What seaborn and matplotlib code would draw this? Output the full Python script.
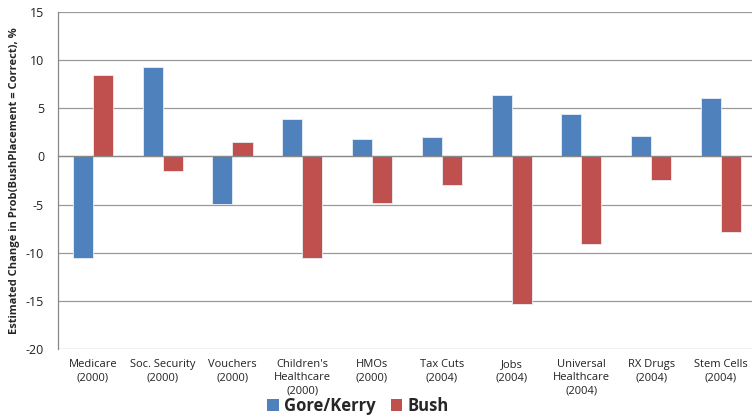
import matplotlib
matplotlib.use("Agg")
import matplotlib.pyplot as plt
import matplotlib.transforms as mtransforms
from matplotlib.patches import Patch
import numpy as np
import pandas as pd
import seaborn as sns

categories = ["Medicare\n(2000)", "Soc. Security\n(2000)", "Vouchers\n(2000)",
              "Children's\nHealthcare\n(2000)", "HMOs\n(2000)", "Tax Cuts\n(2004)",
              "Jobs\n(2004)", "Universal\nHealthcare\n(2004)", "RX Drugs\n(2004)",
              "Stem Cells\n(2004)"]
gore_kerry = [-10.6, 9.3, -4.9, 3.9, 1.8, 2.0, 6.4, 4.4, 2.1, 6.1]
bush = [8.5, -1.5, 1.5, -10.5, -4.8, -3.0, -15.3, -9.1, -2.5, -7.9]
series_names = ["Gore/Kerry", "Bush"]
series_colors = ["#4F81BD", "#C0504D"]
y_ticks = [15, 10, 5, 0, -5, -10, -15, -20]

df = pd.DataFrame({
    "category": categories * 2,
    "value": gore_kerry + bush,
    "series": [series_names[0]] * len(categories) + [series_names[1]] * len(categories),
})

sns.set_style("white")
plt.rcParams["font.family"] = ["Open Sans", "DejaVu Sans"]

fig = plt.figure(figsize=(7.52, 4.17), dpi=100)
ax = fig.add_axes([0.0771, 0.1631, 0.928, 0.8081])

sns.barplot(data=df, x="category", y="value", hue="series", order=categories,
            hue_order=series_names, palette=series_colors, width=0.575,
            saturation=1, edgecolor="#e8eef6", linewidth=0.6, legend=False, ax=ax)

ax.set_ylim(-20, 15)
ax.set_xlim(-0.5, len(categories) - 0.5)
ax.set_yticks(y_ticks)
ax.set_yticklabels([str(t) for t in y_ticks], fontsize=9, color="#222222")
ax.tick_params(axis="y", length=4, width=0.8, color="#888888", direction="out", pad=6)

for t in y_ticks:
    ax.axhline(t, color="#9a9a9a", linewidth=0.9, zorder=0)

for side in ["top", "right"]:
    ax.spines[side].set_visible(False)
ax.spines["left"].set_color("#888888")
ax.spines["left"].set_linewidth(0.9)
ax.spines["bottom"].set_position(("data", 0))
ax.spines["bottom"].set_color("#888888")
ax.spines["bottom"].set_linewidth(0.9)
ax.spines["bottom"].set_zorder(3)

# category labels sit below the plot area; the zero line carries boundary ticks
ax.set_xticks(np.arange(len(categories)))
ax.set_xticklabels([])
ax.tick_params(axis="x", which="major", length=0)
ax.set_xticks(np.arange(len(categories)) + 0.5, minor=True)
ax.tick_params(axis="x", which="minor", length=4, width=0.8, color="#888888", direction="out")

trans = mtransforms.blended_transform_factory(ax.transData, ax.transAxes)
for i, lab in enumerate(categories):
    ax.text(i, -0.03, lab, transform=trans, ha="center", va="top",
            fontsize=8, color="#222222", linespacing=1.3)

ax.set_xlabel("")
ax.set_ylabel("Estimated Change in Prob(BushPlacement = Correct), %",
              fontsize=8, fontweight="bold", labelpad=4)

handles = [Patch(facecolor=c, edgecolor="none") for c in series_colors]
fig.legend(handles, series_names, loc="lower center", bbox_to_anchor=(0.476, -0.03),
           ncol=2, frameon=False, prop={"weight": "bold", "size": 12},
           handlelength=0.7, handleheight=0.7, handletextpad=0.3, columnspacing=0.9)

fig.savefig("out.png", dpi=100)
